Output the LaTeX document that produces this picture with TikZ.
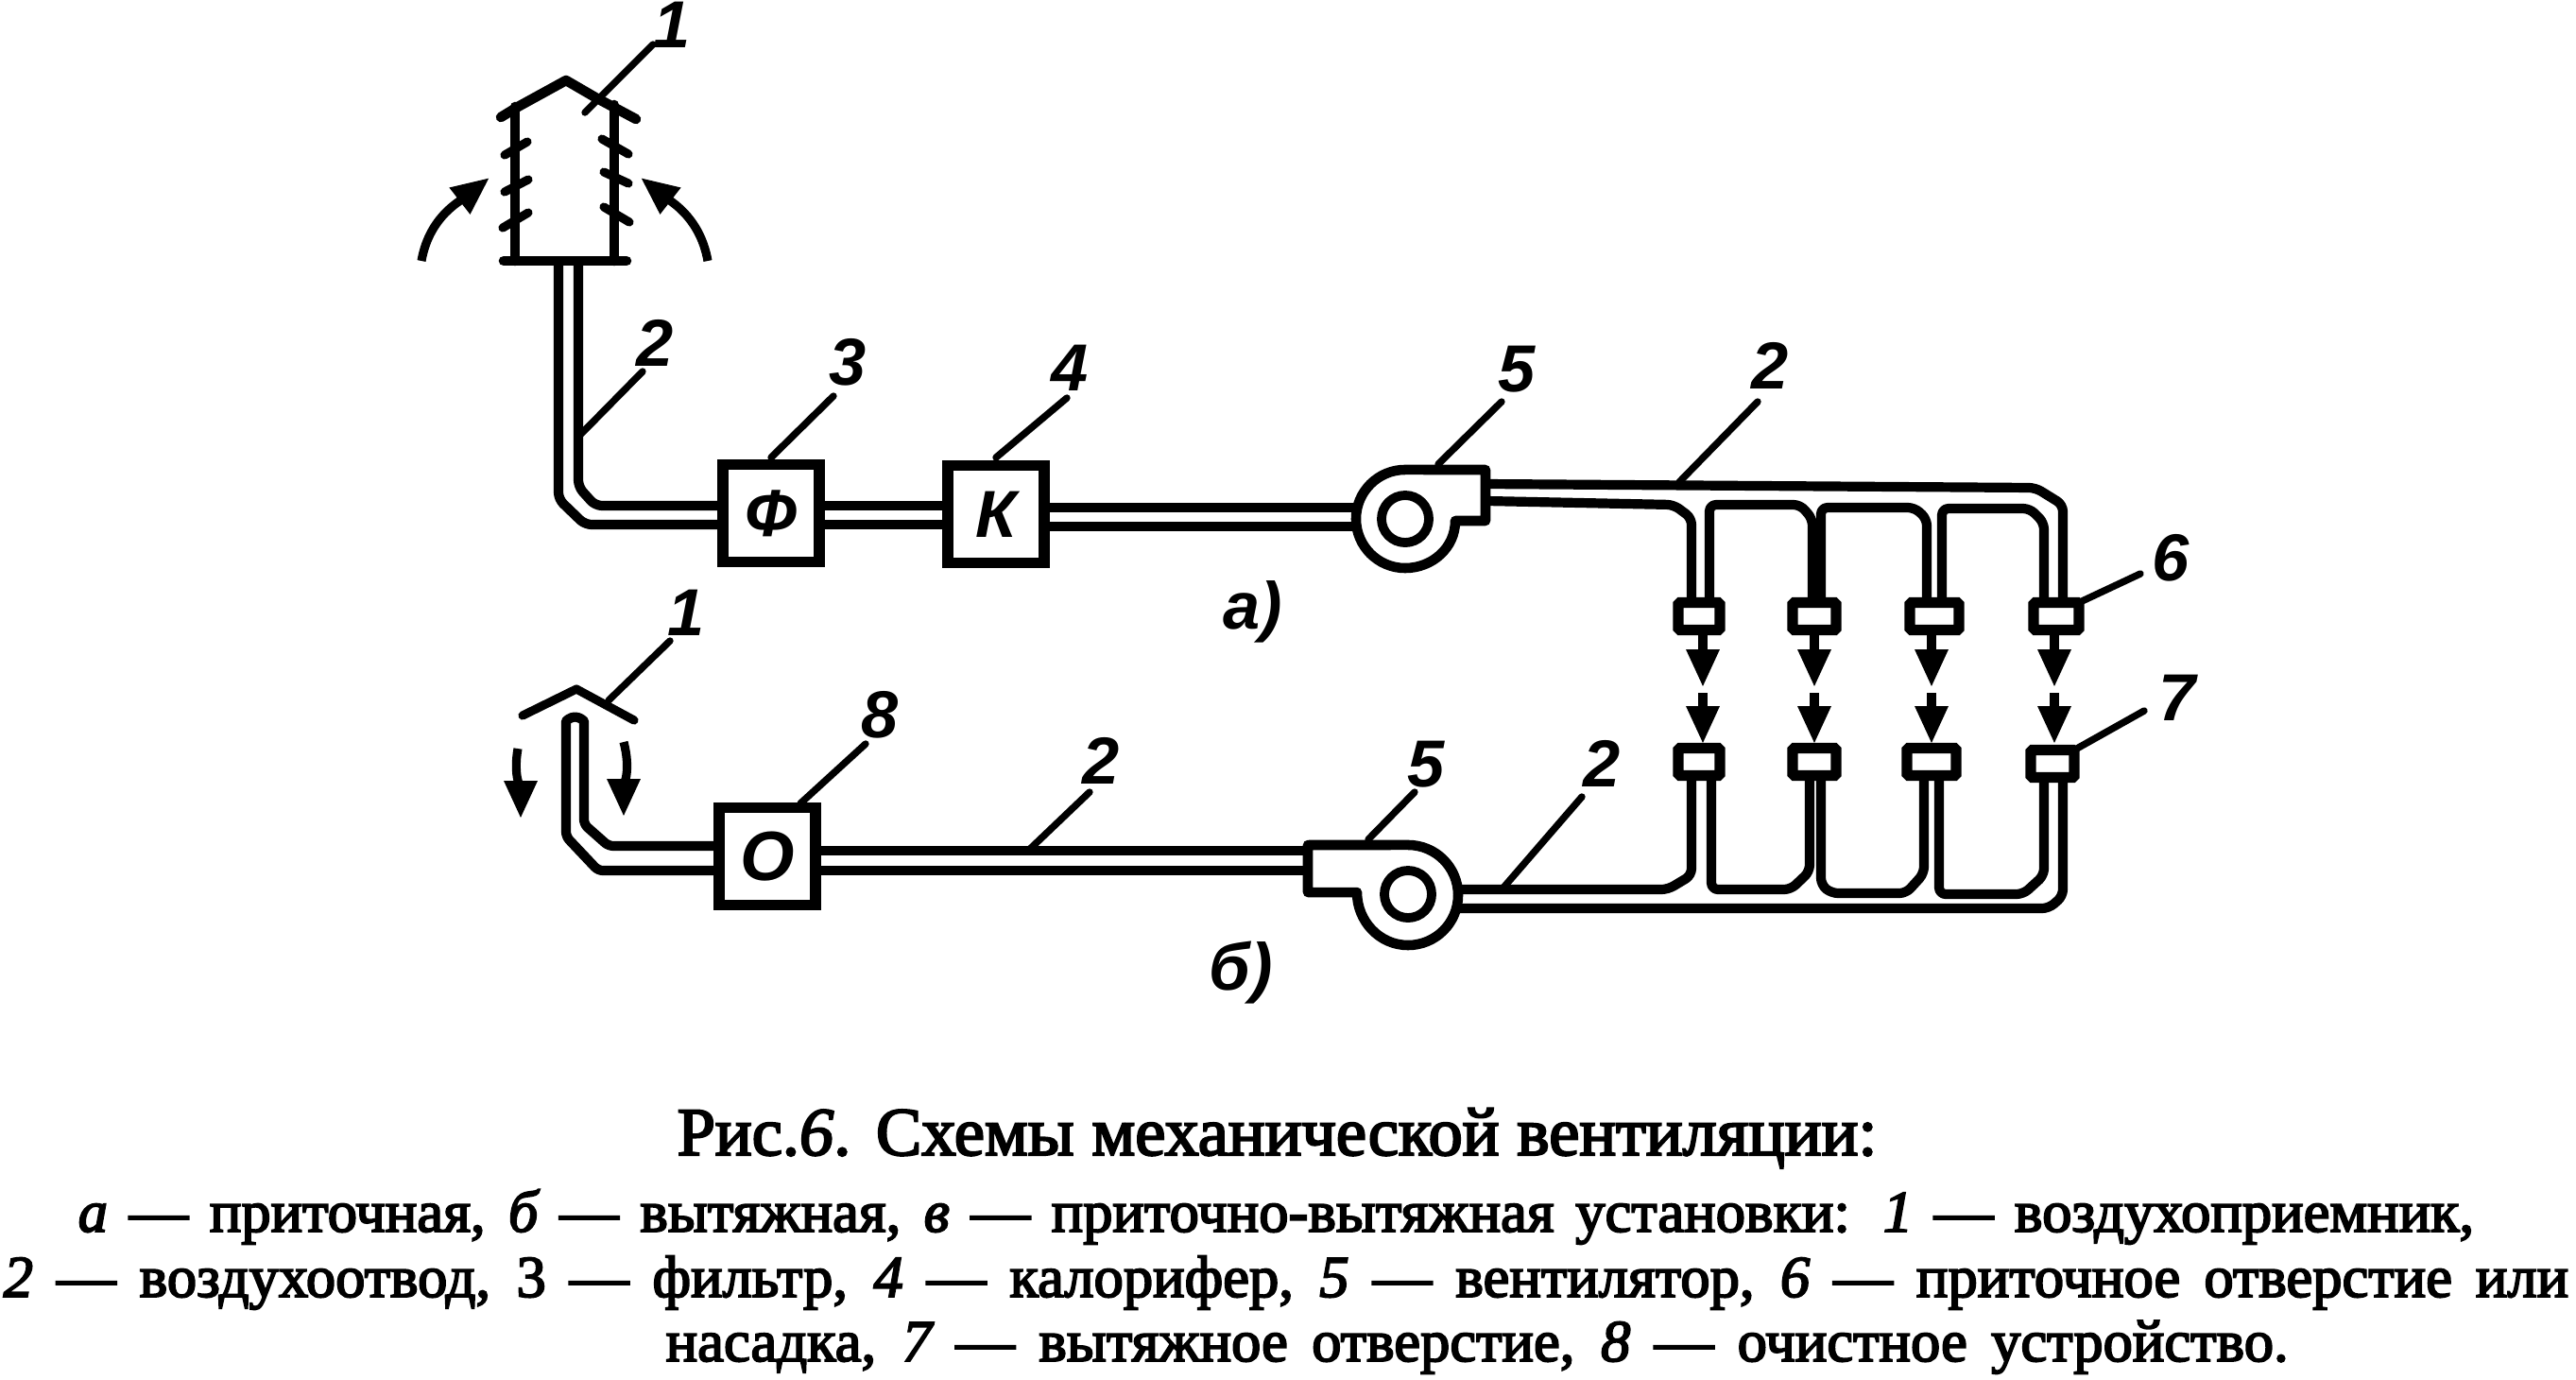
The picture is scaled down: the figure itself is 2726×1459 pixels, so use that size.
\documentclass[tikz,border=0pt]{standalone}
\usepackage{fontspec}
\setmainfont{Liberation Serif}
\newfontfamily\capf[FakeBold=3]{Liberation Serif}
\newfontfamily\lblf{Liberation Sans}
\usetikzlibrary{arrows.meta,calc}
\tikzset{
 duct/.style={line width=2.9pt,line join=round,line cap=butt,rounded corners=.07cm},
 wall/.style={line width=3pt,line join=round,line cap=round},
 leader/.style={line width=2.1pt,line cap=round},
 tick/.style={line width=2.6pt,line cap=round},
 flow/.style={line width=2.6pt,-{Triangle[length=.4cm,width=.33cm]}},
 unit/.style={draw,line width=3.2pt,minimum width=1.02cm,minimum height=1.03cm,inner sep=0pt,outer sep=0pt,font=\lblf\itshape\bfseries\fontsize{20}{24}\selectfont},
 nozzle/.style={draw,line width=3.2pt,minimum width=.46cm,minimum height=.29cm,inner sep=0pt,outer sep=0pt,rounded corners=.5pt},
 num/.style={font=\lblf\bfseries\itshape\fontsize{20}{22}\selectfont,inner sep=0pt},
 wheel/.style={draw,circle,line width=2.8pt,minimum size=.5cm,inner sep=0pt,outer sep=0pt},
 capl/.style={anchor=base west,inner sep=0pt,font=\capf\fontsize{17.8}{20}\selectfont},
}
\begin{document}
\begin{tikzpicture}[x=0.01cm,y=-0.01cm]
\useasboundingbox (0,0) rectangle (2726,1459);
% units
\node[unit] (f) at (816,543) {Ф};
\node[unit] (k) at (1054,544) {К};
\node[unit] (o) at (812,906) {\fontsize{21}{24}\selectfont О};
% fans
\node[wheel] (wa) at (1487,549) {};
\node[wheel] (wb) at (1490,946) {};
\draw[wall] (1572,551) -- (1540,551) to[out=-90,in=0] (1487,601) arc[start angle=-90,end angle=-270,radius=.52cm] -- (1572,497) -- cycle;
\draw[wall] (1384,944) -- (1436,944) to[out=-90,in=180] (1490,1000) arc[start angle=-90,end angle=90,radius=.53cm] -- (1384,894) -- cycle;
% hood a
\draw[wall] (530,124) -- (548,113) -- (599,85) -- (630,103) -- (645,111) -- (673,126);
\draw[wall] (545,113) -- (545,276);
\draw[wall] (650,111) -- (650,276);
\draw[wall] (533,276) -- (663,276);
\foreach \a/\b/\c/\d in {534/164/558/150,534/203/559/190,532/241/559/225,637/147/665/163,639/182/665/194,639/219/666/235}
  \draw[tick] (\a,\b) -- (\c,\d);
\coordinate (ha1) at (446,276); \coordinate (ha2) at (518,188);
\coordinate (ha3) at (749,276); \coordinate (ha4) at (678,188);
\draw[flow] (ha1) to[out=80,in=218] (ha2);
\draw[flow] (ha3) to[out=100,in=-38] (ha4);
% duct a
\draw[duct] (591,276) -- (591,528) -- (619,555) -- (f.west |- 0,555);
\draw[duct] (612,276) -- (612,515) -- (630,535) -- (f.west |- 0,535);
\draw[duct] (f.east |- 0,535) -- (k.west |- 0,535);
\draw[duct] (f.east |- 0,555) -- (k.west |- 0,555);
\draw[duct] (k.east |- 0,537) -- (1433,537);
\draw[duct] (k.east |- 0,557) -- (1433,557);
% nozzles
\node[nozzle,minimum width=.44cm] (n1) at (1798,652) {};
\node[nozzle] (n2) at (1920,652) {};
\node[nozzle,minimum width=.52cm] (n3) at (2047,652) {};
\node[nozzle,minimum width=.48cm] (n4) at (2176,652) {};
\node[nozzle,minimum width=.44cm] (m1) at (1798,806) {};
\node[nozzle] (m2) at (1920,806) {};
\node[nozzle,minimum width=.52cm] (m3) at (2044,806) {};
\node[nozzle] (m4) at (2172,808) {};
% supply ducts
\draw[duct] (1574,512) -- (2154,516) -- (2183,534) -- (2183,638);
\draw[duct] (1574,530) -- (1771,534) -- (1790,548) -- (1790,636);
\draw[duct] (1809,636) -- (1809,534) -- (1905,534) -- (1918,549) -- (1918,636);
\draw[duct] (1927,636) -- (1927,537) -- (2026,537) -- (2039,549) -- (2039,636);
\draw[duct] (2055,636) -- (2055,538) -- (2148,538) -- (2163,553) -- (2163,636);
% flow arrows
\foreach \n/\x in {1/1802,2/1920,3/2044,4/2174}{
  \coordinate (s\n) at (\x,671); \coordinate (t\n) at (\x,727);
  \coordinate (u\n) at (\x,733); \coordinate (v\n) at (\x,787);
  \draw[flow] (s\n) -- (t\n);
  \draw[flow] (u\n) -- (v\n);
}
% exhaust ducts
\draw[duct] (1790,825) -- (1790,926) -- (1765,941) -- (1543,941);
\draw[duct] (1811,825) -- (1811,941) -- (1895,941) -- (1915,922) -- (1915,825);
\draw[duct] (1927,825) -- (1927,936) -- (1938,945) -- (2017,945) -- (2036,924) -- (2036,825);
\draw[duct] (2052,825) -- (2052,946) -- (2141,946) -- (2163,926) -- (2163,827);
\draw[duct] (2183,827) -- (2183,948) -- (2168,961) -- (1543,961);
% hood b and duct b
\draw[wall,line width=2.6pt] (553,757) -- (610,729) -- (671,762);
\draw[duct,rounded corners=.05cm] (o.west |- 0,921) -- (633,921) -- (599,885) -- (599,768) arc[start angle=180,end angle=0,radius=.095cm] -- (618,872) -- (644,895) -- (o.west |- 0,895);
\coordinate (hl1) at (548,792); \coordinate (hl2) at (551,866);
\coordinate (hr1) at (660,785); \coordinate (hr2) at (660,864);
\draw[flow] (hl1) to[out=-100,in=90] (hl2);
\draw[flow] (hr1) to[out=-75,in=90] (hr2);
\draw[duct] (o.east |- 0,900) -- (1382,900);
\draw[duct] (o.east |- 0,921) -- (1382,921);
% leaders and numbers
\node[num] (l1) at (711,26) {1};
\draw[leader] (619,119) -- (691,47);
\node[num] (l2) at (693,363) {2};
\draw[leader] (614,460) -- (680,393);
\node[num] (l3) at (897,383) {3};
\draw[leader] (f.north |- 0,484) -- (882,419);
\node[num] (l4) at (1132,389) {4};
\draw[leader] (k.north |- 0,484) -- (1129,421);
\node[num] (l5) at (1605,391) {5};
\draw[leader] (1522,491) -- (1589,425);
\node[num] (l6) at (1873,387) {2};
\draw[leader] (1777,510) -- (1860,425);
\node[num] (l7) at (2297,590) {6};
\draw[leader] (n4.north east) -- (2265,607);
\node[num] (l8) at (2304,738) {7};
\draw[leader] (m4.north east) -- (2269,752);
\node[num] (l9) at (726,648) {1};
\draw[leader] (644,741) -- (709,678);
\node[num] (l10) at (931,756) {8};
\draw[leader] (847,850) -- (916,787);
\node[num] (l11) at (1165,805) {2};
\draw[leader] (1088,900) -- (1153,838);
\node[num] (l12) at (1509,809) {5};
\draw[leader] (1448,888) -- (1497,838);
\node[num] (l13) at (1695,808) {2};
\draw[leader] (1591,939) -- (1674,843);
\node[num] (la) at (1326,647) {а)};
\node[num] (lb) at (1313,1029) {б)};
% caption
\node[capl,font=\capf\fontsize{20.6}{24}\selectfont] (c0) at (716,1222) {\makebox[12.69cm][s]{Рис.{\itshape 6}. Схемы механической вентиляции:}};
\node[capl] (c1) at (82,1303) {\makebox[25.34cm][s]{{\itshape а} — приточная, {\itshape б} — вытяжная, {\itshape в} — приточно-вытяжная установки: {\itshape 1} — воздухоприемник,}};
\node[capl] (c2) at (3,1372) {\makebox[27.13cm][s]{{\itshape 2} — воздухоотвод, 3 — фильтр, {\itshape 4} — калорифер, {\itshape 5} — вентилятор, {\itshape 6} — приточное отверстие или}};
\node[capl] (c3) at (704,1440) {\makebox[17.16cm][s]{насадка, {\itshape 7} — вытяжное отверстие, {\itshape 8} — очистное устройство.}};
\end{tikzpicture}
\end{document}
